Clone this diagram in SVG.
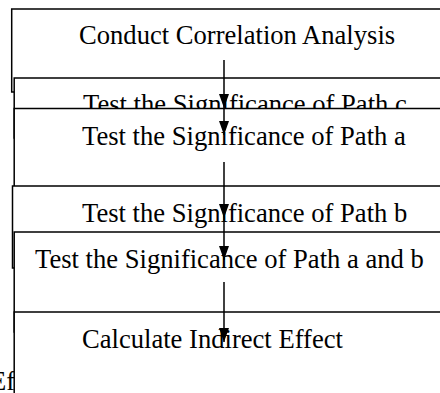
<svg xmlns="http://www.w3.org/2000/svg" width="440" height="393" viewBox="0 0 440 393">
  <style>
    .box { fill: #ffffff; stroke: #000000; stroke-width: 1.5; }
    .label { font-family: "Liberation Serif", "Times New Roman", serif; font-size: 26.6px; fill: #000000; }
    .flow { stroke: #000000; stroke-width: 1.5; fill: none; marker-end: url(#head); }
  </style>
  <defs>
    <marker id="head" markerUnits="userSpaceOnUse" markerWidth="14" markerHeight="10" viewBox="0 -5 14 10" refX="14" refY="0" orient="auto">
      <path d="M0,-5 L14,0 L0,5 z" fill="#000000"/>
    </marker>
  </defs>

  <rect width="440" height="393" fill="#ffffff"/>

  <!-- stray label fragment behind the last step -->
  <text class="label" x="-10" y="390">Ef</text>

  <g id="step-correlation">
    <rect class="box" x="11.7" y="9" width="460" height="83"/>
    <text class="label" x="79" y="44">Conduct Correlation Analysis</text>
  </g>

  <g id="step-path-c">
    <rect class="box" x="14.2" y="78" width="460" height="60"/>
    <text class="label" x="83" y="113">Test the Significance of Path c</text>
  </g>

  <g id="step-path-a">
    <rect class="box" x="14.2" y="108.5" width="460" height="100"/>
    <text class="label" x="82" y="145">Test the Significance of Path a</text>
  </g>

  <g id="step-path-b">
    <rect class="box" x="12.5" y="186" width="460" height="82"/>
    <text class="label" x="82" y="221.5">Test the Significance of Path b</text>
  </g>

  <g id="step-path-ab">
    <rect class="box" x="14.2" y="232" width="460" height="100"/>
    <text class="label" x="35" y="268">Test the Significance of Path a and b</text>
  </g>

  <g id="step-indirect">
    <rect class="box" x="14.2" y="312" width="460" height="100"/>
    <text class="label" x="82" y="347.5">Calculate Indirect Effect</text>
  </g>

  <g id="connectors">
    <line class="flow" x1="224" y1="60" x2="224" y2="108"/>
    <line class="flow" x1="224" y1="108" x2="224" y2="135"/>
    <line class="flow" x1="224" y1="162" x2="224" y2="218"/>
    <line class="flow" x1="224" y1="218" x2="224" y2="260"/>
    <line class="flow" x1="224" y1="282" x2="224" y2="342"/>
  </g>
</svg>
